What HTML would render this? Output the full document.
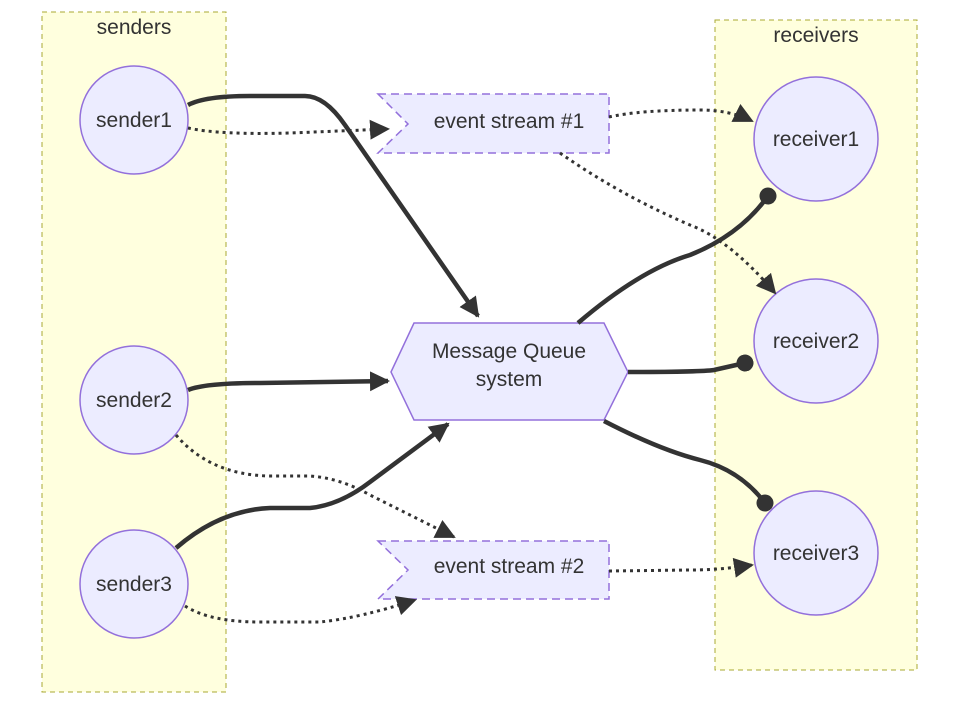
<!DOCTYPE html>
<html><head><meta charset="utf-8"><style>
html,body{margin:0;padding:0;background:#fff;}
svg{display:block;}
text{font-family:"Liberation Sans",sans-serif;fill:#333;font-size:21px;text-anchor:middle;}
</style></head><body>
<svg width="959" height="705" viewBox="0 0 959 705" xmlns="http://www.w3.org/2000/svg">
<defs>
<marker id="ar2" viewBox="0 0 10 10" refX="9" refY="5" markerWidth="20" markerHeight="20" markerUnits="userSpaceOnUse" orient="auto">
<path d="M0,0 L10,5 L0,10 z" fill="#333"/>
</marker>
<marker id="dot" viewBox="0 0 10 10" refX="5" refY="5" markerWidth="17" markerHeight="17" markerUnits="userSpaceOnUse" orient="auto">
<circle cx="5" cy="5" r="5" fill="#333"/>
</marker>
</defs>
<rect x="42" y="12" width="184" height="680" fill="#ffffde" stroke="#aaaa33" stroke-dasharray="5,4"/>
<text x="134" y="34">senders</text>
<rect x="715" y="20" width="202" height="650" fill="#ffffde" stroke="#aaaa33" stroke-dasharray="5,4"/>
<text x="816" y="42">receivers</text>

<g fill="#ECECFF" stroke="#9370DB" stroke-width="1.5">
<circle cx="134" cy="120" r="54"/>
<circle cx="134" cy="400" r="54"/>
<circle cx="134" cy="584" r="54"/>
<circle cx="816" cy="139" r="62"/>
<circle cx="816" cy="341" r="62"/>
<circle cx="816" cy="553" r="62"/>
<polygon points="391,372 414,323 604,323 628,372 604,420 414,420"/>
<polygon points="378,94 609,94 609,153 378,153 408,124" stroke-dasharray="8,5"/>
<polygon points="378,541 609,541 609,599 378,599 408,570" stroke-dasharray="8,5"/>
</g>

<g fill="none" stroke="#333" stroke-width="4.5">
<path d="M188,105 Q205,96 250,96 L305,96 Q325,96 345,125 L478,316" marker-end="url(#ar2)"/>
<path d="M188,390 Q205,383 260,383 L388,381" marker-end="url(#ar2)"/>
<path d="M176,548 Q220,510 270,508 L310,508 Q340,505 370,482 L448,424" marker-end="url(#ar2)"/>
<path d="M578,323 Q640,270 690,255 Q740,235 768,196" marker-end="url(#dot)"/>
<path d="M628,372 Q700,372 714,370 L745,363" marker-end="url(#dot)"/>
<path d="M604,421 Q660,450 700,460 Q740,470 765,503" marker-end="url(#dot)"/>
</g>
<g fill="none" stroke="#333" stroke-width="3" stroke-dasharray="3,4">
<path d="M188,128 Q220,135 290,133 L388,129" marker-end="url(#ar2)"/>
<path d="M609,117 Q640,110 700,110 Q730,110 752,121" marker-end="url(#ar2)"/>
<path d="M560,153 Q620,195 690,225 Q730,240 775,293" marker-end="url(#ar2)"/>
<path d="M176,435 Q210,475 270,476 L310,476 Q340,478 370,495 L454,537" marker-end="url(#ar2)"/>
<path d="M185,606 Q210,622 260,622 L320,622 Q360,618 415,600" marker-end="url(#ar2)"/>
<path d="M609,571 L690,570 Q720,570 752,565" marker-end="url(#ar2)"/>
</g>

<text x="134" y="127">sender1</text>
<text x="134" y="407">sender2</text>
<text x="134" y="591">sender3</text>
<text x="816" y="146">receiver1</text>
<text x="816" y="348">receiver2</text>
<text x="816" y="560">receiver3</text>
<text x="509" y="128">event stream #1</text>
<text x="509" y="573">event stream #2</text>
<text x="509" y="358">Message Queue</text>
<text x="509" y="386">system</text>
</svg>
</body></html>
